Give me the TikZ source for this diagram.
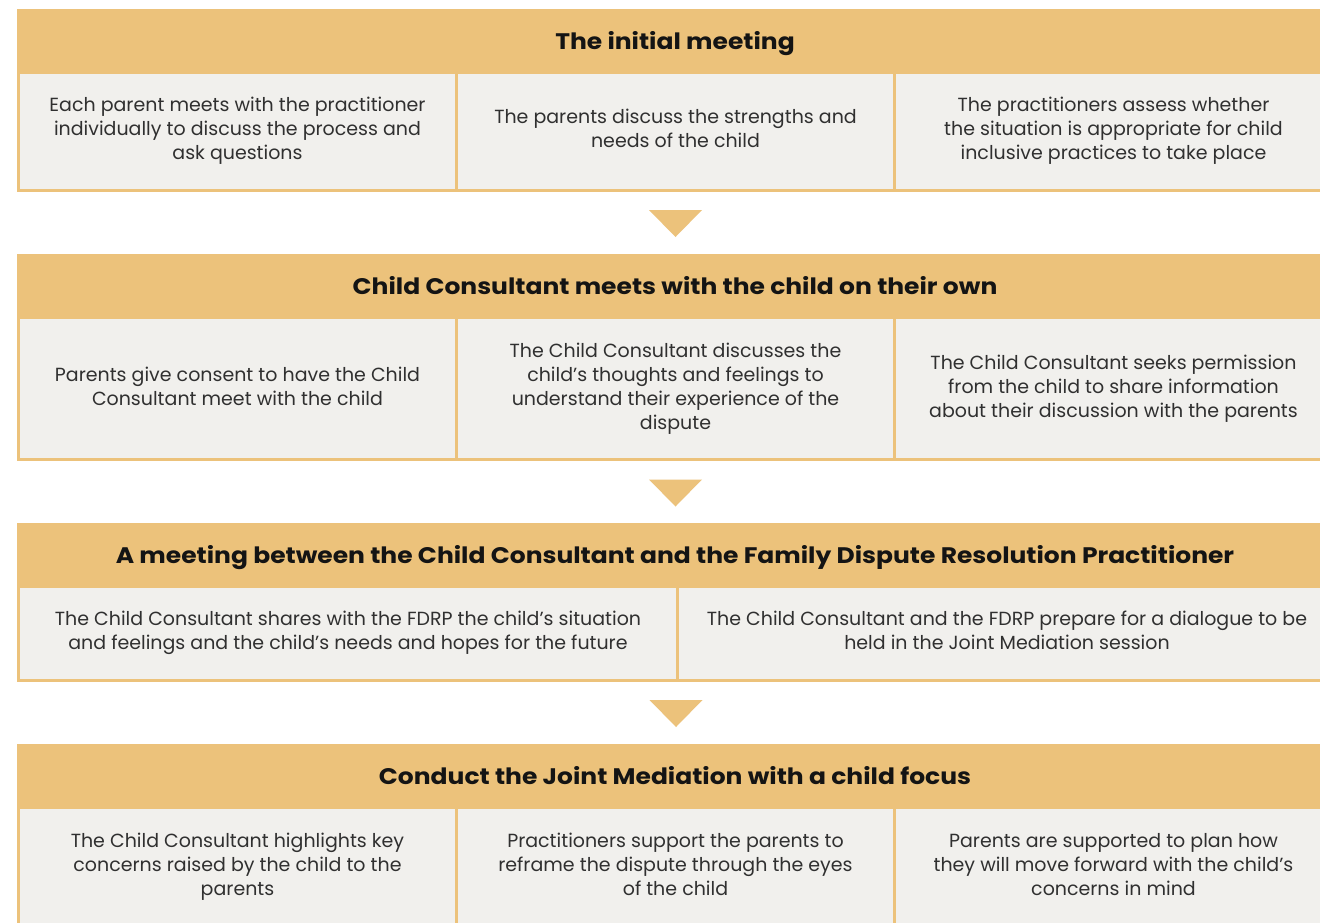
\documentclass[tikz,border=0pt]{standalone}
\usepackage{fontspec}
\setmainfont{Poppins}
\newfontfamily\hdrfont{Poppins}[FakeStretch=1.11]
\definecolor{hdr}{HTML}{ECC27B}
\definecolor{cellbg}{HTML}{F1F0ED}
\definecolor{txt}{HTML}{303030}
\tikzset{
  header/.style={fill=hdr, minimum height=63pt, minimum width=1316pt, inner sep=0pt, outer sep=0pt,
    text height=17pt, text depth=0pt,
    anchor=north west, font=\hdrfont\bfseries\fontsize{22.5}{26}\selectfont, text=black!92},
  cell/.style={fill=cellbg, draw=hdr, line width=3pt, anchor=north west, inner sep=0pt, outer sep=0pt,
    align=center, font=\fontsize{19}{24}\selectfont, text=txt},
  cellthird/.style={cell, minimum width=438pt},
  cellhalf/.style={cell, minimum width=659pt},
  arrowtri/.style={fill=hdr, draw=none}
}
\begin{document}
\begin{tikzpicture}[x=1pt,y=-1pt]
\useasboundingbox (0,0) rectangle (1320,922);
\clip (0,0) rectangle (1320,922);
\fill[white] (0,0) rectangle (1320,922);

% ---------- Section 1 ----------
\node[cellthird, minimum height=118pt] (c11) at (18.5,72) {Each parent meets with the practitioner\\individually to discuss the process and\\ask questions};
\node[cellthird, minimum height=118pt] (c12) at (456.5,72) {The parents discuss the strengths and\\needs of the child\vphantom{g}};
\node[cellthird, minimum height=118pt] (c13) at (894.5,72) {The practitioners assess whether\\the situation is appropriate for child\\inclusive practices to take place};
\node[header] (h1) at (17,9) {The initial meeting};

\path (c12.south) ++(0,20) coordinate (t1);
\fill[arrowtri] (t1) ++(-26.5,0) -- ++(53,0) -- ++(-26.5,27) -- cycle;

% ---------- Section 2 ----------
\node[cellthird, minimum height=142pt] (c21) at (18.5,317.5) {Parents give consent to have the Child\\Consultant meet with the child\vphantom{g}};
\node[cellthird, minimum height=142pt] (c22) at (456.5,317.5) {The Child Consultant discusses the\\child’s thoughts and feelings to\\understand their experience of the\\dispute};
\node[cellthird, minimum height=142pt] (c23) at (894.5,317.5) {The Child Consultant seeks permission\\from the child to share information\\about their discussion with the parents};
\node[header] (h2) at (17,254) {Child Consultant meets with the child on their own};

\path (c22.south) ++(0,20) coordinate (t2);
\fill[arrowtri] (t2) ++(-26.5,0) -- ++(53,0) -- ++(-26.5,27) -- cycle;

% ---------- Section 3 ----------
\node[cellhalf, minimum height=94pt] (c31) at (18.5,586) {The Child Consultant shares with the FDRP the child’s situation\\and feelings and the child’s needs and hopes for the future};
\node[cellhalf, minimum height=94pt] (c32) at (677.5,586) {The Child Consultant and the FDRP prepare for a dialogue to be\\held in the Joint Mediation session\vphantom{g}};
\node[header] (h3) at (17,523) {A meeting between the Child Consultant and the Family Dispute Resolution Practitioner};

\path (c31.south east) ++(-1.5,20) coordinate (t3);
\fill[arrowtri] (t3) ++(-26.5,0) -- ++(53,0) -- ++(-26.5,27) -- cycle;

% ---------- Section 4 ----------
\node[cellthird, minimum height=120pt] (c41) at (18.5,807) {The Child Consultant highlights key\\concerns raised by the child to the\\parents};
\node[cellthird, minimum height=120pt] (c42) at (456.5,807) {Practitioners support the parents to\\reframe the dispute through the eyes\\of the child\vphantom{g}};
\node[cellthird, minimum height=120pt] (c43) at (894.5,807) {Parents are supported to plan how\\they will move forward with the child’s\\concerns in mind\vphantom{g}};
\node[header] (h4) at (17,744) {Conduct the Joint Mediation with a child focus};
\end{tikzpicture}
\end{document}
